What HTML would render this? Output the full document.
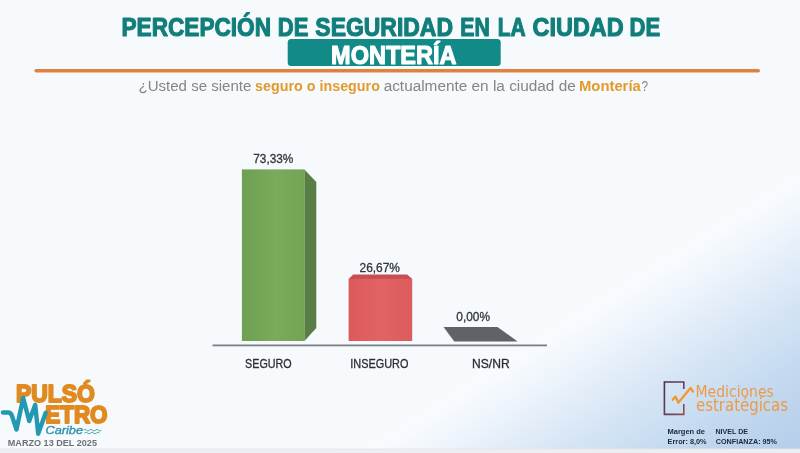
<!DOCTYPE html>
<html lang="es">
<head>
<meta charset="utf-8">
<title>Percepción de seguridad en la ciudad de Montería</title>
<style>
html,body{margin:0;padding:0;background:#f6fafd;}
body{width:800px;height:453px;overflow:hidden;position:relative;font-family:"Liberation Sans",sans-serif;}
svg{position:absolute;left:0;top:0;display:block;}
text{font-family:"Liberation Sans",sans-serif;}
.b{font-weight:bold;}
</style>
</head>
<body>
<svg width="800" height="453" viewBox="0 0 800 453">
<defs>
<linearGradient id="bg" gradientUnits="userSpaceOnUse" x1="613.5" y1="266.2" x2="753.1" y2="485.7">
<stop offset="0" stop-color="#f6fafd"/>
<stop offset="0.1" stop-color="#f8fbfe"/>
<stop offset="0.2" stop-color="#f1f6fc"/>
<stop offset="0.304" stop-color="#e7f0fa"/>
<stop offset="0.488" stop-color="#d6e5f5"/>
<stop offset="0.677" stop-color="#c6dbf1"/>
<stop offset="0.846" stop-color="#bcd3ec"/>
<stop offset="1" stop-color="#b5cde9"/>
</linearGradient>
<linearGradient id="gfront" x1="0" y1="0" x2="1" y2="0">
<stop offset="0" stop-color="#6f9f52"/>
<stop offset="0.55" stop-color="#7aab5c"/>
<stop offset="1" stop-color="#73a455"/>
</linearGradient>
<linearGradient id="rfront" x1="0" y1="0" x2="1" y2="0">
<stop offset="0" stop-color="#db5a5b"/>
<stop offset="0.5" stop-color="#e26364"/>
<stop offset="1" stop-color="#dc5b5c"/>
</linearGradient>
<linearGradient id="icon" x1="0" y1="0" x2="1" y2="1">
<stop offset="0" stop-color="#47304f"/>
<stop offset="0.6" stop-color="#6b405a"/>
<stop offset="1" stop-color="#8f5250"/>
</linearGradient>
</defs>
<rect x="0" y="0" width="800" height="453" fill="url(#bg)"/>
<rect x="0" y="448.9" width="800" height="4.2" fill="#eceef1"/><rect x="0" y="448.6" width="800" height="0.8" fill="#e2e6eb"/>

<!-- title -->
<g class="b" font-size="25.3" fill="#117e7b" stroke="#117e7b" stroke-width="1.1" stroke-linejoin="round">
<text x="121.5" y="35.5" textLength="149.5" lengthAdjust="spacingAndGlyphs">PERCEPCIÓN</text>
<text x="277.75" y="35.5" textLength="30.6" lengthAdjust="spacingAndGlyphs">DE</text>
<text x="315.35" y="35.5" textLength="137.65" lengthAdjust="spacingAndGlyphs">SEGURIDAD</text>
<text x="460.25" y="35.5" textLength="29.5" lengthAdjust="spacingAndGlyphs">EN</text>
<text x="497.75" y="35.5" textLength="27.85" lengthAdjust="spacingAndGlyphs">LA</text>
<text x="532.6" y="35.5" textLength="91" lengthAdjust="spacingAndGlyphs">CIUDAD</text>
<text x="629.6" y="35.5" textLength="30.65" lengthAdjust="spacingAndGlyphs">DE</text>
</g>
<rect x="287.7" y="39.1" width="213" height="26.9" rx="3.5" ry="3.5" fill="#128a88"/>
<text class="b" x="331.1" y="63.6" font-size="25.3" fill="#ffffff" stroke="#ffffff" stroke-width="1.1" stroke-linejoin="round" textLength="125.4" lengthAdjust="spacingAndGlyphs">MONTERÍA</text>
<rect x="34.4" y="68.9" width="725.6" height="3.6" rx="1.8" fill="#e0813e"/>

<!-- subtitle -->
<g font-size="15.4" fill="#838588">
<text x="138.5" y="91" textLength="112.85" lengthAdjust="spacingAndGlyphs">¿Usted se siente</text>
<text class="b" fill="#e39a2d" x="255.1" y="91" textLength="124.8" lengthAdjust="spacingAndGlyphs">seguro o inseguro</text>
<text x="383.65" y="91" textLength="192.1" lengthAdjust="spacingAndGlyphs">actualmente en la ciudad de</text>
<text class="b" fill="#e39a2d" x="579" y="91" textLength="61.75" lengthAdjust="spacingAndGlyphs">Montería</text>
<text x="641.4" y="91" textLength="6.6" lengthAdjust="spacingAndGlyphs">?</text>
</g>

<!-- chart -->
<rect x="212.5" y="344.5" width="334.5" height="1.8" fill="#7b7f84"/>
<polygon points="304.4,169.4 316.3,181.9 316.3,328 304.4,341" fill="#587d45"/>
<rect x="241.9" y="169.4" width="62.8" height="171.6" fill="url(#gfront)"/>
<polygon points="348.6,279 353.2,274.4 407.2,274.4 412.2,279" fill="#c64f52"/>
<rect x="348.6" y="278.8" width="63.6" height="62.2" fill="url(#rfront)"/>
<polygon points="443.5,327.1 497.5,327.1 517.6,341.5 454.3,341.5" fill="#5f6368"/>

<g font-size="11.9" fill="#33373d" stroke="#33373d" stroke-width="0.3">
<text x="253.25" y="162.7" textLength="40.1" lengthAdjust="spacingAndGlyphs">73,33%</text>
<text x="359.5" y="271.6" textLength="40.5" lengthAdjust="spacingAndGlyphs">26,67%</text>
<text x="456.35" y="320.6" textLength="33.7" lengthAdjust="spacingAndGlyphs">0,00%</text>
</g>
<g font-size="12.2" fill="#2b2e33" stroke="#2b2e33" stroke-width="0.3">
<text x="245.1" y="367.6" textLength="46.65" lengthAdjust="spacingAndGlyphs">SEGURO</text>
<text x="350.25" y="367.6" textLength="58.2" lengthAdjust="spacingAndGlyphs">INSEGURO</text>
<text x="472.05" y="367.6" textLength="37.55" lengthAdjust="spacingAndGlyphs">NS/NR</text>
</g>

<!-- left logo -->
<g>
<g class="b" fill="#e08a20" stroke="#e08a20" stroke-width="2" stroke-linejoin="round">
<text x="15.9" y="401.8" font-size="24.8" textLength="78.8" lengthAdjust="spacingAndGlyphs">PULSÓ</text>
<text x="45.3" y="422.5" font-size="24.8" textLength="62.2" lengthAdjust="spacingAndGlyphs">ETRO</text>
</g>
<path d="M3,412.5 H8 Q11,412.5 12,416 L16.5,429.5 L23.2,398 L29.2,421 L35.2,404.8 L38.2,433.8 L45.7,412.8" fill="none" stroke="#2398b3" stroke-width="4.4" stroke-linejoin="round" stroke-linecap="round"/>
<text x="45.5" y="434" font-size="11.2" font-style="italic" fill="#2f91aa" stroke="#2f91aa" stroke-width="0.35" textLength="37.5" lengthAdjust="spacingAndGlyphs">Caribe</text>
<path d="M83.5,430.2 q1.5,-1.8 3,0 t3,0 t3,0 t3,0 t3,0 t3,0 M84.5,433 q1.5,-1.8 3,0 t3,0 t3,0 t3,0 t3,0" fill="none" stroke="#3a9db5" stroke-width="0.9"/>
<text class="b" x="7.8" y="446.4" font-size="8.7" fill="#6c7076" textLength="89.15" lengthAdjust="spacingAndGlyphs">MARZO 13 DEL 2025</text>
</g>

<!-- right logo -->
<g>
<path d="M683.8,389 V382 H664.4 V414.4 H683.8 V404" fill="none" stroke="url(#icon)" stroke-width="1.6"/>
<polyline points="672.8,399.8 675.4,396.6 678.5,402.6 690.5,388 693,391.6" fill="none" stroke="#f4962a" stroke-width="2.3" stroke-linejoin="round" stroke-linecap="round"/>
<g fill="#ee9a45">
<text x="695.55" y="397.3" font-size="16.2" textLength="78.3" lengthAdjust="spacingAndGlyphs" style="font-family:'DejaVu Sans','Liberation Sans',sans-serif">Mediciones</text>
<text x="696.05" y="411.1" font-size="16.9" textLength="91.9" lengthAdjust="spacingAndGlyphs" style="font-family:'DejaVu Sans','Liberation Sans',sans-serif">estratégicas</text>
</g>
<g class="b" font-size="7.5" fill="#1c2738">
<text x="667.6" y="433.7" textLength="37.35" lengthAdjust="spacingAndGlyphs">Margen de</text>
<text x="667.6" y="443.9" textLength="38.95" lengthAdjust="spacingAndGlyphs">Error: 8,0%</text>
<text x="715.5" y="433.7" textLength="32.5" lengthAdjust="spacingAndGlyphs">NIVEL DE</text>
<text x="715.75" y="443.9" textLength="61.2" lengthAdjust="spacingAndGlyphs">CONFIANZA: 95%</text>
</g>
</g>
</svg>
</body>
</html>
